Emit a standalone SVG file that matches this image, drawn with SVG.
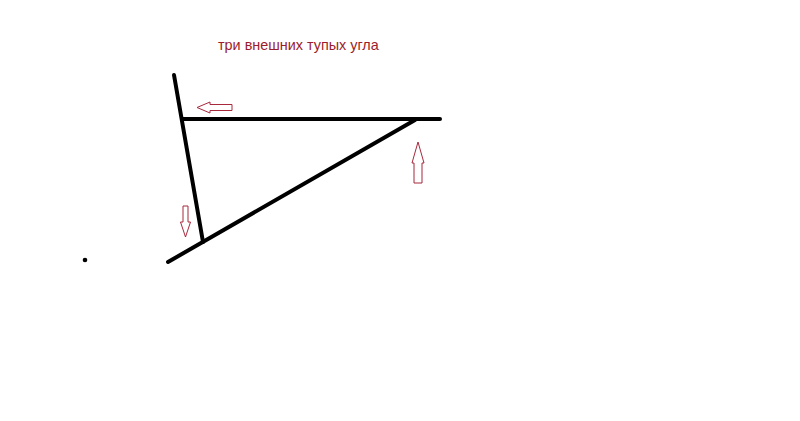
<svg xmlns="http://www.w3.org/2000/svg" width="800" height="421" viewBox="0 0 800 421">
<style>
.ln{stroke:#000;stroke-width:4;stroke-linecap:round;fill:none}
.ar{fill:#fff;stroke:#a8283c;stroke-width:1}
.t{font-family:"Liberation Sans",Arial,sans-serif;font-size:14.4px;fill:#9b1c2c}
</style>
<rect width="800" height="421" fill="#fff"/>
<text class="t" x="218" y="50">три внешних тупых угла</text>
<g id="connectors">
<line class="ln" x1="174" y1="75" x2="203" y2="242"/>
<line class="ln" x1="183" y1="119" x2="440" y2="119"/>
<line class="ln" x1="168" y1="262" x2="415" y2="120"/>
</g>
<g id="arrow-left"><polygon class="ar" points="197,107.5 210,102 210,104.5 232,104.5 232,110.5 210,110.5 210,113"/></g>
<g id="arrow-down"><polygon class="ar" points="183,206 188,206 188,222 190.5,222 185.5,237 180.5,222 183,222"/></g>
<g id="arrow-up"><polygon class="ar" points="418,142 424,163 422,163 422,183 414,183 414,163 412,163"/></g>
<circle id="dot" cx="85" cy="260" r="2.3" fill="#000"/>
</svg>
